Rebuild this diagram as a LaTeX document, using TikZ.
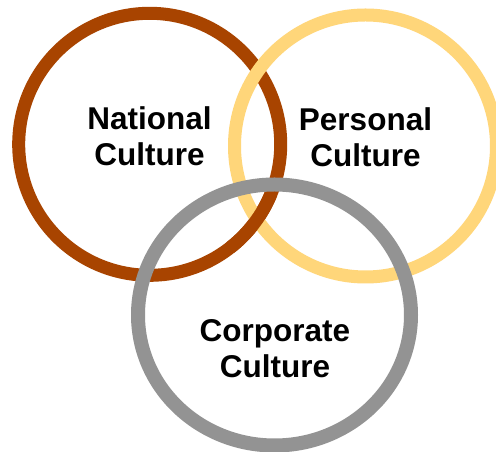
\documentclass[tikz,border=0pt]{standalone}
\usepackage{fontspec}
\setmainfont{Liberation Sans}
\definecolor{natbrown}{RGB}{168,68,0}
\definecolor{peryellow}{RGB}{255,214,122}
\definecolor{corgray}{RGB}{147,147,147}
\begin{document}
\begin{tikzpicture}[x=1pt,y=1pt,
  ring/.style={draw, fill=none, line width=13pt},
  label/.style={align=center, anchor=base, inner sep=0pt,
    font=\bfseries\fontsize{31.5pt}{36.4pt}\selectfont}]
\clip (0,0) rectangle (496,452);
\fill[white] (0,0) rectangle (496,452);
\coordinate (nat) at (149.7,307.7);
\coordinate (per) at (365.5,306);
\coordinate (cor) at (274.5,137);
% rings
\draw[ring, natbrown] (nat) circle[radius=131pt];
\draw[ring, peryellow] (per) circle[radius=131pt];
% brown passes over yellow at the lower crossing
\draw[ring, natbrown] ([shift={(-22:131pt)}]nat) arc[start angle=-22, end angle=-52, radius=131pt];
\draw[ring, corgray, line width=14pt] (cor) ellipse[x radius=136.5pt, y radius=130.5pt];
% labels
\node[label] (natl) at (149.5,286.3) {National\\Culture};
\node[label] (perl) at (365.5,285.3) {Personal\\Culture};
\node[label] (corl) at (275,74) {Corporate\\Culture};
\end{tikzpicture}
\end{document}
